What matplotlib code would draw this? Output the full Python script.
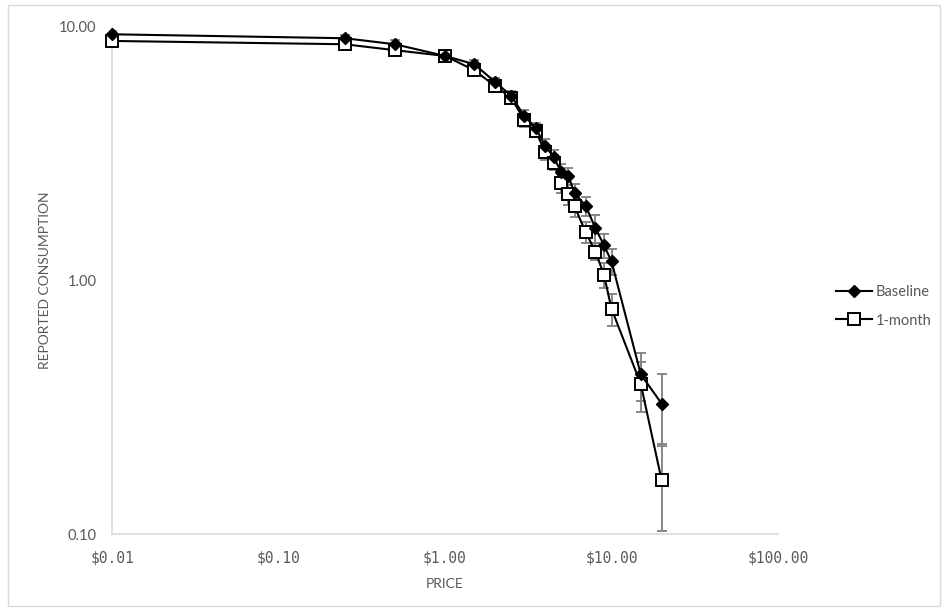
import matplotlib
matplotlib.use("Agg")
import matplotlib.pyplot as plt
from matplotlib.patches import Rectangle
from matplotlib.lines import Line2D

# ---- data ----
prices = [0.01, 0.25, 0.5, 1, 1.5, 2, 2.5, 3, 3.5, 4, 4.5, 5, 5.5, 6, 7, 8, 9, 10, 15, 20]
baseline = [9.36, 9.03, 8.55, 7.69, 7.13, 6.07, 5.35, 4.45, 4.00, 3.40, 3.06, 2.67, 2.59, 2.21,
            1.97, 1.61, 1.38, 1.19, 0.426, 0.327]
baseline_se = [0.30, 0.30, 0.30, 0.30, 0.30, 0.25, 0.25, 0.25, 0.20, 0.20, 0.20, 0.20, 0.20, 0.20,
               0.17, 0.20, 0.15, 0.14, 0.09, 0.10]
month1 = [8.81, 8.55, 8.10, 7.69, 6.75, 5.85, 5.25, 4.29, 3.90, 3.20, 2.92, 2.42, 2.19, 1.96,
          1.55, 1.30, 1.056, 0.774, 0.39, 0.163]
month1_se = [0.30, 0.30, 0.30, 0.30, 0.30, 0.25, 0.25, 0.25, 0.20, 0.20, 0.20, 0.20, 0.20, 0.18,
             0.15, 0.10, 0.12, 0.11, 0.087, 0.06]
series_names = ["Baseline", "1-month"]
x_ticks = [0.01, 0.1, 1, 10, 100]
x_ticklabels = ["$0.01", "$0.10", "$1.00", "$10.00", "$100.00"]
y_ticks = [0.1, 1, 10]
y_ticklabels = ["0.10", "1.00", "10.00"]

W, H = 944, 611
fig = plt.figure(figsize=(W / 100, H / 100), dpi=100)
fig.patches.append(Rectangle((8 / W, 5 / H), (940 - 8) / W, (606 - 5) / H,
                             transform=fig.transFigure, fill=False,
                             edgecolor="#d9d9d9", lw=1.0))

ax = fig.add_axes([112 / W, 1 - 534 / H, (778 - 112) / W, (534 - 27) / H])
ax.set_xscale("log")
ax.set_yscale("log")
ax.set_xlim(0.01, 100)
ax.set_ylim(0.1, 10)

ecol = "#7f7f7f"
ax.errorbar(prices, month1, yerr=month1_se, fmt="none", ecolor=ecol,
            elinewidth=1.3, capsize=3.3, capthick=1.3, zorder=2)
ax.errorbar(prices, baseline, yerr=baseline_se, fmt="none", ecolor=ecol,
            elinewidth=1.3, capsize=3.3, capthick=1.3, zorder=2)

ax.plot(prices, month1, color="black", lw=1.5, marker="s", markersize=8,
        markerfacecolor="white", markeredgecolor="black", markeredgewidth=1.4,
        zorder=3, clip_on=False)
ax.plot(prices, baseline, color="black", lw=1.5, marker="D", markersize=6,
        markerfacecolor="black", markeredgecolor="black",
        zorder=4, clip_on=False)

for s in ["top", "right"]:
    ax.spines[s].set_visible(False)
for s in ["left", "bottom"]:
    ax.spines[s].set_color("#d9d9d9")
    ax.spines[s].set_linewidth(1.2)

ax.xaxis.set_minor_locator(matplotlib.ticker.NullLocator())
ax.yaxis.set_minor_locator(matplotlib.ticker.NullLocator())
ax.set_xticks(x_ticks)
ax.set_xticklabels(x_ticklabels, fontfamily="DejaVu Sans Mono", fontsize=10.5, color="#595959")
ax.set_yticks(y_ticks)
ax.set_yticklabels(y_ticklabels, fontfamily="Lato", fontsize=10.5, color="#595959")
ax.tick_params(axis="x", length=0, pad=12)
ax.tick_params(axis="y", length=0, pad=11)

ax.set_xlabel("PRICE", fontfamily="Lato", fontsize=10, color="#595959", labelpad=9)
fig.text(45 / W, 1 - 280 / H, "REPORTED CONSUMPTION", rotation=90, ha="center", va="center",
         fontfamily="Lato", fontsize=10, color="#595959")

handles = [
    Line2D([], [], color="black", lw=1.5, marker="D", markersize=6, markerfacecolor="black"),
    Line2D([], [], color="black", lw=1.5, marker="s", markersize=8, markerfacecolor="white",
           markeredgewidth=1.4),
]
leg = fig.legend(handles, series_names, loc="upper left",
                 bbox_to_anchor=(836 / W, 1 - 285 / H), frameon=False,
                 prop={"family": "Lato", "size": 10.5}, handlelength=2.5,
                 handletextpad=0.25, labelspacing=1.0, borderpad=0, borderaxespad=0)
for t in leg.get_texts():
    t.set_color("#595959")

fig.savefig("out.png", dpi=100)
